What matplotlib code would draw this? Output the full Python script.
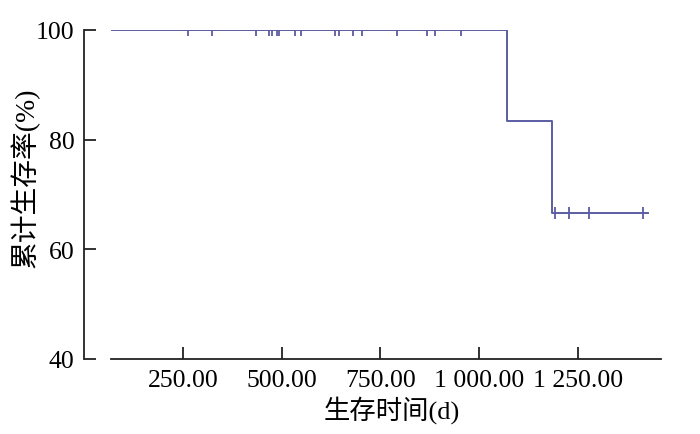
import numpy as np
import matplotlib
matplotlib.use("Agg")
import matplotlib.pyplot as plt
from matplotlib.ticker import FuncFormatter

# Kaplan-Meier curve
step_times = [72, 1071, 1185, 1428]
step_surv = [100.0, 83.33, 66.67, 66.67]

censor_times = [264, 323, 435, 467, 475, 488, 493, 534, 549, 635, 644, 680,
                703, 792, 868, 889, 954, 1192, 1226, 1277, 1414]

x_ticks = [250, 500, 750, 1000, 1250]
y_ticks = [40, 60, 80, 100]

line_color = "#5c5ca2"
serif_cjk = ["Liberation Serif", "Noto Sans CJK SC"]

fig = plt.figure(figsize=(7.0, 4.35), dpi=100)
ax = fig.add_axes([84 / 700, 75 / 435, 577 / 700, 329 / 435])

ax.step(step_times, step_surv, where="post", color=line_color, lw=1.4)

st = np.array(step_times)
sv = np.array(step_surv)
censor_surv = [sv[np.searchsorted(st, t, side="right") - 1] for t in censor_times]
ax.plot(censor_times, censor_surv, linestyle="none", marker="|",
        markersize=8.5, markeredgewidth=1.3, color=line_color)

ax.set_xlim(0, 1460)
ax.set_ylim(40, 100)
ax.set_xticks(x_ticks)
ax.set_yticks(y_ticks)

def fmt_x(v, pos):
    return f"{v:,.2f}".replace(",", " ")

ax.xaxis.set_major_formatter(FuncFormatter(fmt_x))

for sp in ["top", "right"]:
    ax.spines[sp].set_visible(False)
ax.spines["bottom"].set_bounds(68, 1460)
for sp in ["left", "bottom"]:
    ax.spines[sp].set_linewidth(1.3)
    ax.spines[sp].set_color("#222222")

ax.tick_params(axis="both", direction="in", length=8.5, width=1.3,
               color="#222222", labelsize=18.5, pad=7)
for lab in ax.get_xticklabels() + ax.get_yticklabels():
    lab.set_family(serif_cjk)

ax.set_xlabel("生存时间(d)", family=serif_cjk, fontsize=19)
ax.xaxis.set_label_coords(0.534, -0.152)
ax.xaxis.label.set_va("center")
ax.xaxis.label.set_ha("center")

ax.set_ylabel("累计生存率(%)", family=serif_cjk, fontsize=20)
ax.yaxis.set_label_coords(-0.102, 0.553)
ax.yaxis.label.set_va("center")
ax.yaxis.label.set_ha("center")

fig.savefig("out.png", dpi=100)
